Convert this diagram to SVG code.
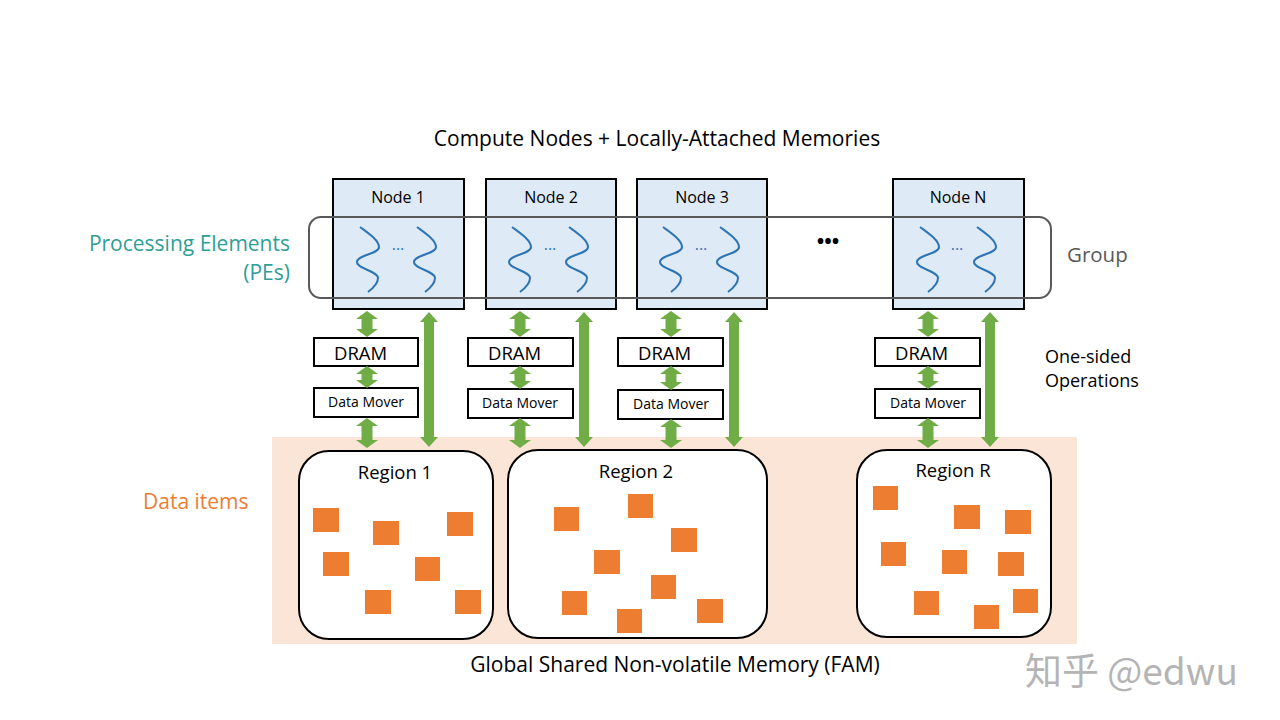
<svg xmlns="http://www.w3.org/2000/svg" width="1280" height="720" viewBox="0 0 1280 720">
<defs>
<style>
text{font-family:"Open Sans","Liberation Sans",sans-serif;fill:#000}
.node{fill:#DEEBF7;stroke:#000;stroke-width:2}
.box{fill:#fff;stroke:#000;stroke-width:2}
.reg{fill:#fff;stroke:#000;stroke-width:2}
.sq{fill:#ED7D31}
.wave{fill:none;stroke:#2E75B6;stroke-width:2}
.arr{fill:#70AD47}
.t16{font-size:16px;text-anchor:middle}
.t17{font-size:18.5px}
.t13{font-size:14px;text-anchor:middle}
.dots{font-size:16px;fill:#2E75B6;text-anchor:middle}
.rt{font-size:18.5px;text-anchor:middle}
</style>
<path id="wv" d="M0,0 C8,6 19,13 19,20 C19,27 -3,28 -3,35 C-3,42 18,44 18,51 C18,57 12,62 8,65"/>
</defs>
<rect x="272" y="437" width="805" height="207" fill="#FBE5D6"/>
<text x="657" y="146" style="font-size:21px;text-anchor:middle">Compute Nodes + Locally-Attached Memories</text>
<text x="290" y="251" style="font-size:21px;text-anchor:end;fill:#2F9E96">Processing Elements</text>
<text x="290" y="280" style="font-size:21px;text-anchor:end;fill:#2F9E96">(PEs)</text>
<text x="1067" y="262" style="font-size:20.5px;fill:#595959">Group</text>
<text x="143" y="509" style="font-size:21px;fill:#ED7D31">Data items</text>
<text x="1045" y="363" style="font-size:18px">One-sided</text>
<text x="1045" y="387" style="font-size:18px">Operations</text>
<text x="675" y="672" style="font-size:21px;text-anchor:middle">Global Shared Non-volatile Memory (FAM)</text>
<g id="node1">
<rect class="node" x="333" y="179" width="131" height="130"/>
<text class="t16" x="398" y="203">Node 1</text>
<use href="#wv" class="wave" x="360" y="227"/><use href="#wv" class="wave" x="417" y="227"/>
<text class="dots" x="398" y="250">...</text>
</g>
<g id="node2">
<rect class="node" x="486" y="179" width="130" height="130"/>
<text class="t16" x="551" y="203">Node 2</text>
<use href="#wv" class="wave" x="512" y="227"/><use href="#wv" class="wave" x="569" y="227"/>
<text class="dots" x="550" y="250">...</text>
</g>
<g id="node3">
<rect class="node" x="637" y="179" width="130" height="130"/>
<text class="t16" x="702" y="203">Node 3</text>
<use href="#wv" class="wave" x="663" y="227"/><use href="#wv" class="wave" x="720" y="227"/>
<text class="dots" x="701" y="250">...</text>
</g>
<text x="828" y="248" style="font-size:20px;text-anchor:middle;font-weight:bold">•••</text>
<g id="nodeN">
<rect class="node" x="893" y="179" width="131" height="130"/>
<text class="t16" x="958" y="203">Node N</text>
<use href="#wv" class="wave" x="920" y="227"/><use href="#wv" class="wave" x="977" y="227"/>
<text class="dots" x="957" y="250">...</text>
</g>
<g id="group">
<rect x="309" y="217" width="742" height="81" rx="12" fill="none" stroke="#595959" stroke-width="2"/>
</g>
<g id="dram1"><rect class="box" x="314" y="338" width="104" height="28"/><text class="t17" x="334" y="360">DRAM</text></g>
<g id="mover1"><rect class="box" x="314" y="388" width="104" height="29"/><text class="t13" x="366" y="407">Data Mover</text></g>
<g id="dram2"><rect class="box" x="468" y="338" width="105" height="28"/><text class="t17" x="488" y="360">DRAM</text></g>
<g id="mover2"><rect class="box" x="468" y="389" width="105" height="29"/><text class="t13" x="520" y="408">Data Mover</text></g>
<g id="dram3"><rect class="box" x="618" y="338" width="105" height="28"/><text class="t17" x="638" y="360">DRAM</text></g>
<g id="mover3"><rect class="box" x="618" y="390" width="105" height="29"/><text class="t13" x="671" y="409">Data Mover</text></g>
<g id="dramN"><rect class="box" x="875" y="338" width="105" height="28"/><text class="t17" x="895" y="360">DRAM</text></g>
<g id="moverN"><rect class="box" x="875" y="389" width="105" height="29"/><text class="t13" x="928" y="408">Data Mover</text></g>
<g id="region1">
<rect class="reg" x="299" y="451" width="194" height="188" rx="30"/>
<text class="rt" x="395" y="479">Region 1</text>
<rect class="sq" x="313" y="508" width="26" height="24"/><rect class="sq" x="373" y="521" width="26" height="24"/>
<rect class="sq" x="447" y="512" width="26" height="24"/><rect class="sq" x="323" y="552" width="26" height="24"/>
<rect class="sq" x="415" y="557" width="25" height="24"/><rect class="sq" x="365" y="590" width="26" height="24"/>
<rect class="sq" x="455" y="590" width="26" height="24"/>
</g>
<g id="region2">
<rect class="reg" x="508" y="450" width="259" height="188" rx="30"/>
<text class="rt" x="636" y="478">Region 2</text>
<rect class="sq" x="554" y="507" width="25" height="24"/><rect class="sq" x="628" y="494" width="25" height="24"/>
<rect class="sq" x="671" y="528" width="26" height="24"/><rect class="sq" x="594" y="550" width="26" height="24"/>
<rect class="sq" x="651" y="575" width="25" height="24"/><rect class="sq" x="562" y="591" width="25" height="24"/>
<rect class="sq" x="617" y="609" width="25" height="24"/><rect class="sq" x="697" y="599" width="26" height="24"/>
</g>
<g id="regionR">
<rect class="reg" x="857" y="450" width="194" height="187" rx="30"/>
<text class="rt" x="953" y="477">Region R</text>
<rect class="sq" x="873" y="486" width="25" height="24"/><rect class="sq" x="954" y="505" width="26" height="24"/>
<rect class="sq" x="1005" y="510" width="26" height="24"/><rect class="sq" x="881" y="542" width="25" height="24"/>
<rect class="sq" x="942" y="550" width="25" height="24"/><rect class="sq" x="998" y="552" width="26" height="24"/>
<rect class="sq" x="914" y="591" width="25" height="24"/><rect class="sq" x="974" y="605" width="25" height="24"/>
<rect class="sq" x="1013" y="589" width="25" height="24"/>
</g>
<g id="connectors" class="arr">
<path d="M367,311 l11,8 h-5.5 v10 h5.5 l-11,8 l-11,-8 h5.5 v-10 h-5.5z"/>
<path d="M367,366 l11,8 h-5.5 v6 h5.5 l-11,8 l-11,-8 h5.5 v-6 h-5.5z"/>
<path d="M367,418 l11,8 h-5.5 v14 h5.5 l-11,8 l-11,-8 h5.5 v-14 h-5.5z"/>
<path d="M429,312 l9,10 h-4 v115 h4 l-9,10 l-9,-10 h4 v-115 h-4z"/>
<path d="M520,311 l11,8 h-5.5 v10 h5.5 l-11,8 l-11,-8 h5.5 v-10 h-5.5z"/>
<path d="M520,366 l11,8 h-5.5 v7 h5.5 l-11,8 l-11,-8 h5.5 v-7 h-5.5z"/>
<path d="M520,418 l11,8 h-5.5 v14 h5.5 l-11,8 l-11,-8 h5.5 v-14 h-5.5z"/>
<path d="M584,312 l9,10 h-4 v115 h4 l-9,10 l-9,-10 h4 v-115 h-4z"/>
<path d="M671,311 l11,8 h-5.5 v10 h5.5 l-11,8 l-11,-8 h5.5 v-10 h-5.5z"/>
<path d="M671,366 l11,8 h-5.5 v8 h5.5 l-11,8 l-11,-8 h5.5 v-8 h-5.5z"/>
<path d="M671,419 l11,8 h-5.5 v13 h5.5 l-11,8 l-11,-8 h5.5 v-13 h-5.5z"/>
<path d="M734,312 l9,10 h-4 v115 h4 l-9,10 l-9,-10 h4 v-115 h-4z"/>
<path d="M928,311 l11,8 h-5.5 v10 h5.5 l-11,8 l-11,-8 h5.5 v-10 h-5.5z"/>
<path d="M928,366 l11,8 h-5.5 v7 h5.5 l-11,8 l-11,-8 h5.5 v-7 h-5.5z"/>
<path d="M928,418 l11,8 h-5.5 v14 h5.5 l-11,8 l-11,-8 h5.5 v-14 h-5.5z"/>
<path d="M990,312 l9,10 h-4 v115 h4 l-9,10 l-9,-10 h4 v-115 h-4z"/>
</g>
<text x="1025" y="685" style="font-size:37px;fill:#B4B4B4;font-family:'Noto Sans CJK SC','Liberation Sans',sans-serif">知乎 @edwu</text>
</svg>
